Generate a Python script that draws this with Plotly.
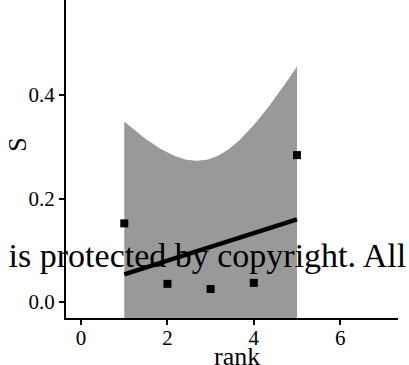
import numpy as np
import plotly.graph_objects as go

rank = [1, 2, 3, 4, 5]
S = [0.152, 0.035, 0.025, 0.037, 0.284]
x_ticks = [0, 2, 4, 6]
y_ticks = [0.0, 0.2, 0.4]
y_ticklabels = ["0.0", "0.2", "0.4"]
watermark = "e is protected by copyright. All"

# linear fit with 95% confidence band (like geom_smooth(method="lm"))
x = np.array(rank, float)
y = np.array(S, float)
n = len(x)
b, a = np.polyfit(x, y, 1)
xs = np.linspace(x.min(), x.max(), 100)
fit = a + b * xs
resid = y - (a + b * x)
s = np.sqrt((resid ** 2).sum() / (n - 2))
sxx = ((x - x.mean()) ** 2).sum()
se = s * np.sqrt(1 / n + (xs - x.mean()) ** 2 / sxx)
t = 3.182446
upper = fit + t * se
lower = fit - t * se

fig = go.Figure()
fig.add_trace(go.Scatter(
    x=list(xs) + list(xs[::-1]), y=list(upper) + list(lower[::-1]),
    fill="toself", fillcolor="#999999", line=dict(width=0),
    mode="lines", hoverinfo="skip", showlegend=False))
fig.add_trace(go.Scatter(x=xs, y=fit, mode="lines",
                         line=dict(color="black", width=4.5), showlegend=False))
fig.add_trace(go.Scatter(x=rank, y=S, mode="markers",
                         marker=dict(symbol="square", size=8, color="black"),
                         showlegend=False))

font = "Liberation Serif, Times New Roman, serif"
fig.update_layout(
    width=409, height=365,
    margin=dict(l=66, r=11, t=0, b=47),
    plot_bgcolor="white", paper_bgcolor="white",
    font=dict(family=font, color="black"),
    xaxis=dict(range=[-0.35, 7.34], tickvals=x_ticks, showgrid=False, zeroline=False,
               showline=True, linecolor="black", linewidth=2, automargin=False,
               ticks="outside", ticklen=5, tickwidth=2, tickcolor="black",
               ticklabelstandoff=-5,
               tickfont=dict(size=21, family=font)),
    yaxis=dict(range=[-0.031, 0.584], tickvals=y_ticks, ticktext=y_ticklabels,
               showgrid=False, zeroline=False, automargin=False,
               showline=True, linecolor="black", linewidth=2,
               ticks="outside", ticklen=5, tickwidth=2, tickcolor="black",
               tickfont=dict(size=21, family=font)),
    annotations=[
        dict(text=watermark, xref="paper", yref="paper",
             x=1.03, y=0.195, xanchor="right", yanchor="middle",
             showarrow=False, font=dict(size=34, family=font, color="black")),
        dict(text="S", xref="paper", yref="paper", x=-0.148, y=0.544,
             xanchor="center", yanchor="middle", textangle=-90,
             showarrow=False, font=dict(size=26, family=font, color="black")),
        dict(text="rank", xref="paper", yref="paper", x=0.514, y=-0.12,
             xanchor="center", yanchor="middle",
             showarrow=False, font=dict(size=26, family=font, color="black")),
    ],
)
fig.write_html("out.html")
